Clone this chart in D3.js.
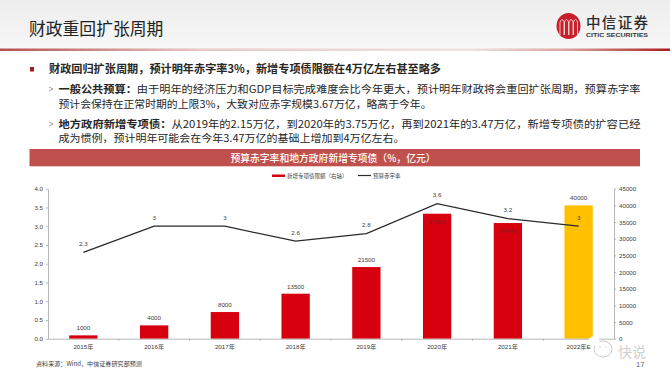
<!DOCTYPE html>
<html>
<head>
<meta charset="utf-8">
<script src="https://cdn.jsdelivr.net/npm/d3@7"></script>
<style>
  html, body { margin: 0; padding: 0; background: #fff; }
  svg { display: block; }
  .cn { font-family: "Noto Sans CJK SC", sans-serif; }
  .num { font-family: "Liberation Sans", "Noto Sans CJK SC", sans-serif; }
</style>
</head>
<body>
<svg id="chart" width="670" height="377"></svg>
<script>
const years = ['2015年', '2016年', '2017年', '2018年', '2019年', '2020年', '2021年', '2022年E']
const bondQuota = [1000, 4000, 8000, 13500, 21500, 37500, 34700, 40000]
const deficitRate = [2.3, 3, 3, 2.6, 2.8, 3.6, 3.2, 3]
const rateTicks = [0, 0.5, 1, 1.5, 2, 2.5, 3, 3.5, 4]
const quotaTicks = [0, 5000, 10000, 15000, 20000, 25000, 30000, 35000, 40000, 45000]

const pageTitle = '财政重回扩张周期'
const chartTitle = '预算赤字率和地方政府新增专项债（%，亿元）'
const sourceNote = '资料来源：Wind，中信证券研究部预测'
const bodyLines = [
  { x: 49, y: 69, w: 392, size: 11, t: [['财政回归扩张周期，预计明年赤字率3%，新增专项债限额在4万亿左右甚至略多', 1]] },
  { x: 58.5, y: 89, w: 582, size: 10.6, t: [['一般公共预算：', 1], ['由于明年的经济压力和GDP目标完成难度会比今年更大，预计明年财政将会重回扩张周期，预算赤字率', 0]] },
  { x: 58.5, y: 104, w: 373, size: 10.6, t: [['预计会保持在正常时期的上限3%，大致对应赤字规模3.67万亿，略高于今年。', 0]] },
  { x: 58.5, y: 124, w: 582, size: 10.6, t: [['地方政府新增专项债：', 1], ['从2019年的2.15万亿，到2020年的3.75万亿，再到2021年的3.47万亿，新增专项债的扩容已经', 0]] },
  { x: 58.5, y: 138, w: 346, size: 10.6, t: [['成为惯例，预计明年可能会在今年3.47万亿的基础上增加到4万亿左右。', 0]] }
]

const red = '#d7000f', gold = '#ffc000', axisGrey = '#a6a6a6', textGrey = '#404040'
const margin = { top: 188.7, right: 56, bottom: 38.3, left: 48 }
const width = 670, height = 377

const svg = d3.select('#chart')
const defs = svg.append('defs')

const headBg = defs.append('linearGradient').attr('id', 'headBg').attr('x2', 0).attr('y2', 1)
headBg.append('stop').attr('offset', 0).attr('stop-color', '#ededed')
headBg.append('stop').attr('offset', 1).attr('stop-color', '#f7f7f7')
const headRule = defs.append('linearGradient').attr('id', 'headRule')
headRule.append('stop').attr('offset', 0).attr('stop-color', '#b5504f')
headRule.append('stop').attr('offset', 0.3).attr('stop-color', '#e8c9c8')
headRule.append('stop').attr('offset', 0.7).attr('stop-color', '#f0e4e3')
headRule.append('stop').attr('offset', 0.85).attr('stop-color', '#d9a09d')
headRule.append('stop').attr('offset', 1).attr('stop-color', '#a81c1f')

// page header
svg.append('rect').attr('width', width).attr('height', 49).attr('fill', 'url(#headBg)')
svg.append('rect').attr('y', 48.5).attr('width', width).attr('height', 2.5).attr('fill', 'url(#headRule)')
svg.append('text').attr('class', 'cn').attr('x', 29).attr('y', 34.5)
  .attr('font-size', 16.8).attr('fill', '#222').text(pageTitle)

// logo
const logo = svg.append('g').attr('transform', 'translate(568.5,26)')
logo.append('ellipse').attr('rx', 12).attr('ry', 13).attr('fill', '#c8202a')
logo.selectAll('path').data([-6.5, -2, 2.5, 7]).enter().append('path')
  .attr('d', d => `M${d - 2},9 V-4 Q${d},-9 ${d + 2},-4 V9`)
  .attr('fill', 'none').attr('stroke', '#f3d5d5').attr('stroke-width', 0.9)
svg.append('text').attr('class', 'cn').attr('x', 586).attr('y', 28)
  .attr('font-size', 14.5).attr('font-weight', 500).attr('fill', '#2b2b2b')
  .attr('textLength', 62).attr('lengthAdjust', 'spacing').text('中信证券')
svg.append('text').attr('class', 'num').attr('x', 586).attr('y', 37)
  .attr('font-size', 6).attr('font-weight', 700).attr('fill', '#333')
  .attr('textLength', 62).attr('lengthAdjust', 'spacingAndGlyphs').text('CITIC SECURITIES')

// body text
svg.append('rect').attr('x', 30).attr('y', 67).attr('width', 4).attr('height', 4.5).attr('fill', '#a81c1f')
svg.selectAll('.arrow').data([89, 124]).enter().append('path')
  .attr('class', 'arrow')
  .attr('d', d => d3.line()([[49, d - 2], [53, d], [49, d + 2]]))
  .attr('fill', 'none').attr('stroke', '#888').attr('stroke-width', 0.8)

bodyLines.forEach(l => {
  const txt = svg.append('text').attr('class', 'cn')
    .attr('x', l.x).attr('y', l.y + 4).attr('font-size', l.size).attr('fill', '#262626')
    .attr('textLength', l.w).attr('lengthAdjust', 'spacingAndGlyphs')
  l.t.forEach(p => txt.append('tspan').attr('font-weight', p[1] ? 700 : 400).text(p[0]))
})

// chart title band
svg.append('rect').attr('x', 29.5).attr('y', 149).attr('width', 610.5).attr('height', 17.3).attr('fill', '#c0504d')
svg.append('text').attr('class', 'cn').attr('x', 333).attr('y', 161.5)
  .attr('text-anchor', 'middle').attr('font-size', 9.8).attr('font-weight', 500).attr('fill', '#fff')
  .text(chartTitle)

// scales
const x = d3.scaleBand().domain(years)
  .range([margin.left, width - margin.right]).paddingInner(0.6).paddingOuter(0.3)
const slot = d3.scaleBand().domain(years).range([margin.left, width - margin.right])
const yRate = d3.scaleLinear().domain([0, 4]).range([height - margin.bottom, margin.top])
const yQuota = d3.scaleLinear().domain([0, 45000]).range([height - margin.bottom, margin.top])
const center = d => slot(d) + slot.bandwidth() / 2

// bars
svg.append('g').selectAll('rect').data(years).enter().append('rect')
  .attr('x', d => center(d) - x.bandwidth() / 2)
  .attr('width', x.bandwidth())
  .attr('y', (d, i) => yQuota(bondQuota[i]))
  .attr('height', (d, i) => yQuota(0) - yQuota(bondQuota[i]))
  .attr('fill', (d, i) => i === years.length - 1 ? gold : red)

// axes
function styleAxis(g) {
  g.selectAll('path, line').attr('stroke', axisGrey).attr('stroke-width', 0.8)
  g.selectAll('text').attr('class', 'num').attr('font-family', null).attr('font-size', 6.2).attr('fill', textGrey)
}
svg.append('g').attr('transform', `translate(${margin.left},0)`)
  .call(d3.axisLeft(yRate).tickValues(rateTicks).tickFormat(d3.format('.1f')).tickSize(2).tickPadding(3).tickSizeOuter(0))
  .call(styleAxis)
svg.append('g').attr('transform', `translate(${width - margin.right},0)`)
  .call(d3.axisRight(yQuota).tickValues(quotaTicks).tickFormat(d3.format('d')).tickSize(2).tickPadding(3).tickSizeOuter(0))
  .call(styleAxis)
const xAxis = svg.append('g').attr('transform', `translate(0,${height - margin.bottom})`)
  .call(d3.axisBottom(slot).tickSize(0).tickPadding(5.5))
  .call(styleAxis)
xAxis.selectAll('.sep').data(years.slice(1)).enter().append('line')
  .attr('class', 'sep')
  .attr('x1', d => slot(d)).attr('x2', d => slot(d))
  .attr('y1', 0).attr('y2', 2)
  .attr('stroke', axisGrey).attr('stroke-width', 0.8)

// deficit line
const line = d3.line().x((d, i) => center(years[i])).y(d => yRate(d))
svg.append('path').datum(deficitRate)
  .attr('d', line).attr('fill', 'none').attr('stroke', '#2a2a2a').attr('stroke-width', 1.3)

// data labels
svg.append('g').selectAll('text').data(years).enter().append('text')
  .attr('class', 'num').attr('font-size', 6.2).attr('text-anchor', 'middle')
  .attr('fill', (d, i) => (i === 5 || i === 6) ? '#8a1a20' : textGrey)
  .attr('x', d => center(d))
  .attr('y', (d, i) => yQuota(bondQuota[i]) + ((i === 5 || i === 6) ? 10 : -5))
  .text((d, i) => bondQuota[i])
svg.append('g').selectAll('text').data(years).enter().append('text')
  .attr('class', 'num').attr('font-size', 6.2).attr('text-anchor', 'middle').attr('fill', textGrey)
  .attr('x', d => center(d))
  .attr('y', (d, i) => yRate(deficitRate[i]) - 6.5)
  .text((d, i) => deficitRate[i])

// legend
const legend = svg.append('g')
legend.append('rect').attr('x', 272).attr('y', 174.5).attr('width', 13).attr('height', 2.5).attr('fill', red)
legend.append('text').attr('class', 'cn').attr('x', 287).attr('y', 177.5)
  .attr('font-size', 5.5).attr('fill', textGrey).text('新增专项债限额（右轴）')
legend.append('line').attr('x1', 358).attr('x2', 371).attr('y1', 175.5).attr('y2', 175.5)
  .attr('stroke', '#2a2a2a').attr('stroke-width', 1.2)
legend.append('text').attr('class', 'cn').attr('x', 373).attr('y', 177.5)
  .attr('font-size', 5.5).attr('fill', textGrey).text('预算赤字率')

// source, page number
svg.append('text').attr('class', 'cn').attr('x', 36).attr('y', 365.5)
  .attr('font-size', 6.1).attr('fill', textGrey).text(sourceNote)
svg.append('text').attr('class', 'num').attr('x', 636).attr('y', 366.5)
  .attr('font-size', 7.5).attr('fill', '#666').text('17')

// watermark
const mark = svg.append('g').attr('fill', 'none').attr('stroke', '#c9c9c9').attr('stroke-width', 1)
mark.append('ellipse').attr('cx', 603).attr('cy', 349).attr('rx', 9).attr('ry', 8).attr('fill', '#fff')
mark.append('ellipse').attr('cx', 594).attr('cy', 341).attr('rx', 5.5).attr('ry', 4.5).attr('fill', '#fff').attr('stroke', 'none')
mark.selectAll('circle').data([600, 606]).enter().append('circle')
  .attr('cx', d => d).attr('cy', 347).attr('r', 0.7).attr('fill', '#c9c9c9').attr('stroke', 'none')
svg.append('text').attr('class', 'cn').attr('x', 618).attr('y', 356.5)
  .attr('font-size', 14).attr('fill', '#cfcfcf').text('快说')
</script>
</body>
</html>
